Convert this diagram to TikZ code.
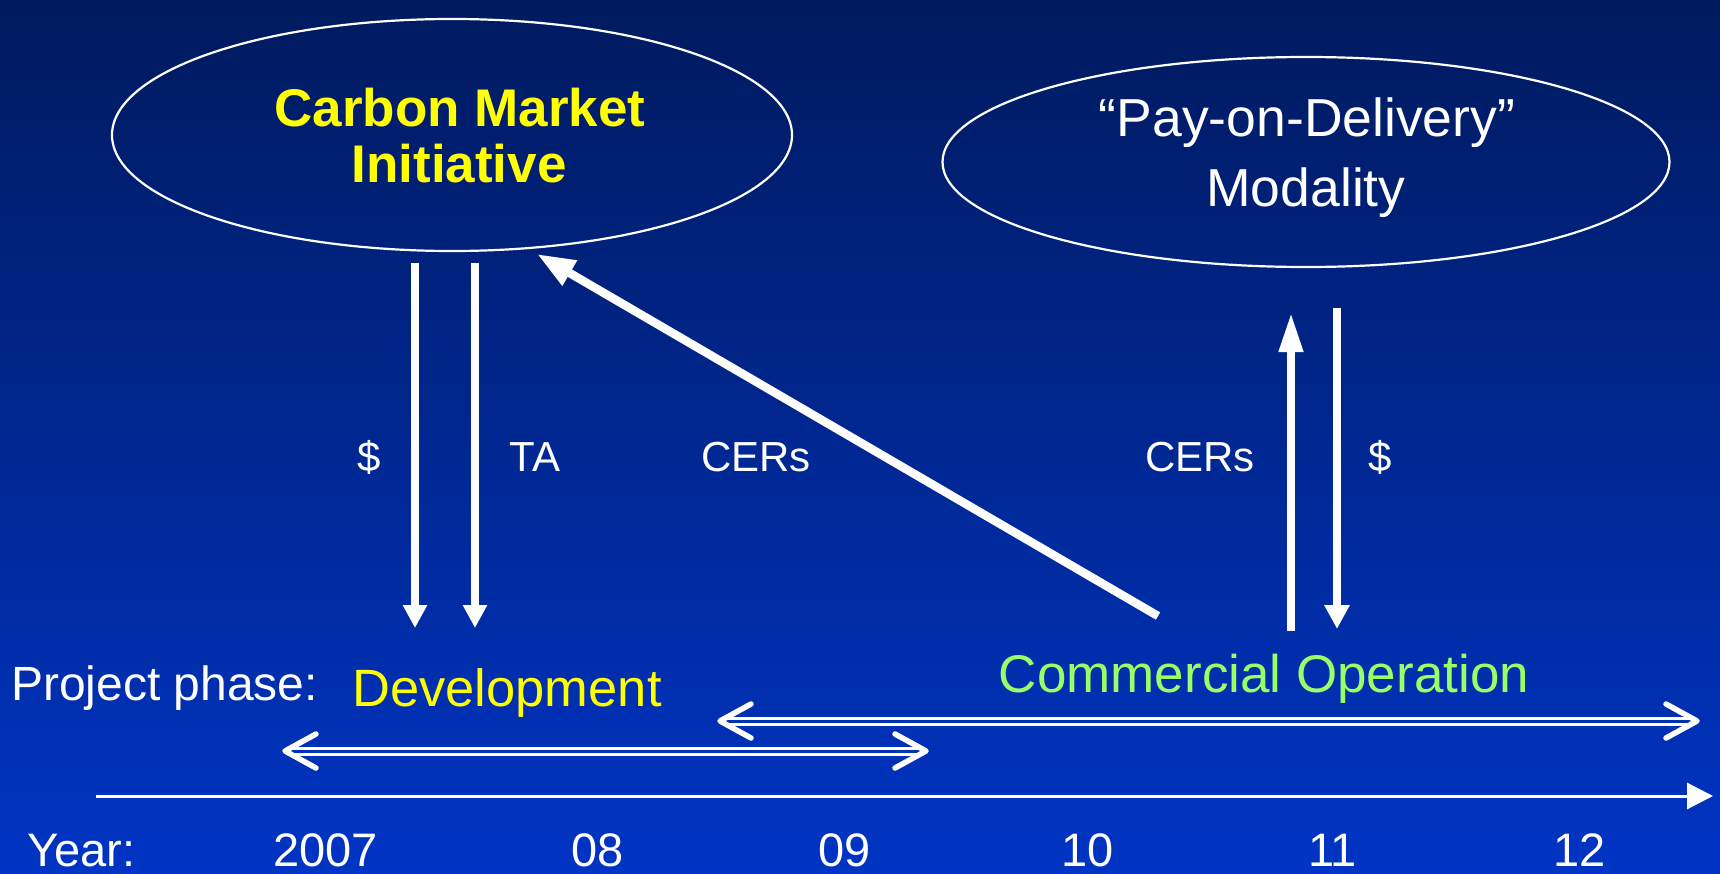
\documentclass[tikz,border=0pt]{standalone}
\usepackage{fontspec}
\setmainfont{Liberation Sans}
\usetikzlibrary{shapes.geometric,arrows.meta}
\definecolor{bgtop}{RGB}{0,26,94}
\definecolor{bgbot}{RGB}{0,52,196}
\definecolor{dblin}{RGB}{0,48,180}
\definecolor{ylw}{RGB}{255,255,0}
\definecolor{grn}{RGB}{153,255,102}
\begin{document}
\begin{tikzpicture}[x=1pt,y=-1pt,
  oval/.style={ellipse, draw=white, line width=2.2pt, inner sep=0},
  lbl/.style={text=white, inner sep=0, anchor=base, font=\fontsize{42}{48}\selectfont},
  yr/.style={text=white, inner sep=0, anchor=base west, font=\fontsize{47}{54}\selectfont},
  vline/.style={draw=white, line width=7.5pt},
  dblshaft/.style={draw=white, line width=3pt, double=dblin, double distance=3pt},
  chev/.style={draw=white, line width=5.5pt, line cap=round, line join=round}]
\useasboundingbox (0,0) rectangle (1720,874);
\shade[top color=bgtop, bottom color=bgbot] (0,0) rectangle (1720,874);

% ellipses
\node[oval, minimum width=680pt, minimum height=232pt] (cmi) at (452,135) {};
\node[oval, minimum width=727pt, minimum height=210pt] (pod) at (1306,162) {};
\node[inner sep=0, anchor=base, text=ylw, font=\fontsize{53}{60}\selectfont\bfseries] (cmi1) at (460,127) {Carbon Market};
\node[inner sep=0, anchor=base, text=ylw, font=\fontsize{53}{60}\selectfont\bfseries] (cmi2) at (459,183) {Initiative};
\node[inner sep=0, anchor=base, text=white, font=\fontsize{53.5}{60}\selectfont] (pod1) at (1307,137) {“Pay-on-Delivery”};
\node[inner sep=0, anchor=base, text=white, font=\fontsize{53.5}{60}\selectfont] (pod2) at (1306,207) {Modality};

% vertical arrows
\coordinate (a1s) at (415,263); \coordinate (a1e) at (415,628);
\coordinate (a2s) at (475,263); \coordinate (a2e) at (475,628);
\draw[vline, -{Triangle[length=23pt,width=23pt]}] (a1s) -- (a1e);
\draw[vline, -{Triangle[length=23pt,width=23pt]}] (a2s) -- (a2e);
\coordinate (a3s) at (1291,631); \coordinate (a3e) at (1291,313);
\coordinate (a4s) at (1337,308); \coordinate (a4e) at (1337,629);
\draw[vline, -{Triangle[length=39pt,width=23pt]}] (a3s) -- (a3e);
\draw[vline, -{Triangle[length=24pt,width=24pt]}] (a4s) -- (a4e);
% diagonal arrow
\coordinate (ds) at (1158,616); \coordinate (de) at (537,254);
\draw[draw=white, line width=8.5pt, -{Triangle[length=38pt,width=27pt]}] (ds) -- (de);

% arrow labels
\node[lbl] (l1) at (369,471) {\$};
\node[lbl] (l2) at (535,471) {TA};
\node[lbl] (l3) at (756,471) {CERs};
\node[lbl] (l4) at (1200,471) {CERs};
\node[lbl] (l5) at (1380,471) {\$};

% project phase
\node[inner sep=0, anchor=base west, text=white, font=\fontsize{48}{54}\selectfont] (pp) at (11,700) {Project phase:};
\node[inner sep=0, anchor=base, text=ylw, font=\fontsize{52.5}{60}\selectfont] (dev) at (507,706) {Development};
\node[inner sep=0, anchor=base, text=grn, font=\fontsize{53}{60}\selectfont] (com) at (1264,692) {Commercial Operation};

% double arrows
\coordinate (dv1) at (285,751); \coordinate (dv2) at (926,751);
\draw[dblshaft] ([xshift=3pt]dv1) -- ([xshift=-3pt]dv2);
\draw[chev] ([shift={(31,-17)}]dv1) -- (dv1) -- ([shift={(31,17)}]dv1);
\draw[chev] ([shift={(-31,-17)}]dv2) -- (dv2) -- ([shift={(-31,17)}]dv2);
\coordinate (cm1) at (720,721); \coordinate (cm2) at (1697,721);
\draw[dblshaft] ([xshift=3pt]cm1) -- ([xshift=-3pt]cm2);
\draw[chev] ([shift={(31,-17)}]cm1) -- (cm1) -- ([shift={(31,17)}]cm1);
\draw[chev] ([shift={(-31,-17)}]cm2) -- (cm2) -- ([shift={(-31,17)}]cm2);

% year axis
\coordinate (ys) at (96,796); \coordinate (ye) at (1713,796);
\draw[draw=white, line width=3pt, -{Triangle[length=26pt,width=26pt]}] (ys) -- (ye);
\node[yr] (y0) at (27,866) {Year:};
\node[yr] (y1) at (273,866) {2007};
\node[yr] (y2) at (571,866) {08};
\node[yr] (y3) at (818,866) {09};
\node[yr] (y4) at (1061,866) {10};
\node[yr] (y5) at (1308,866) {11};
\node[yr] (y6) at (1553,866) {12};
\end{tikzpicture}
\end{document}
